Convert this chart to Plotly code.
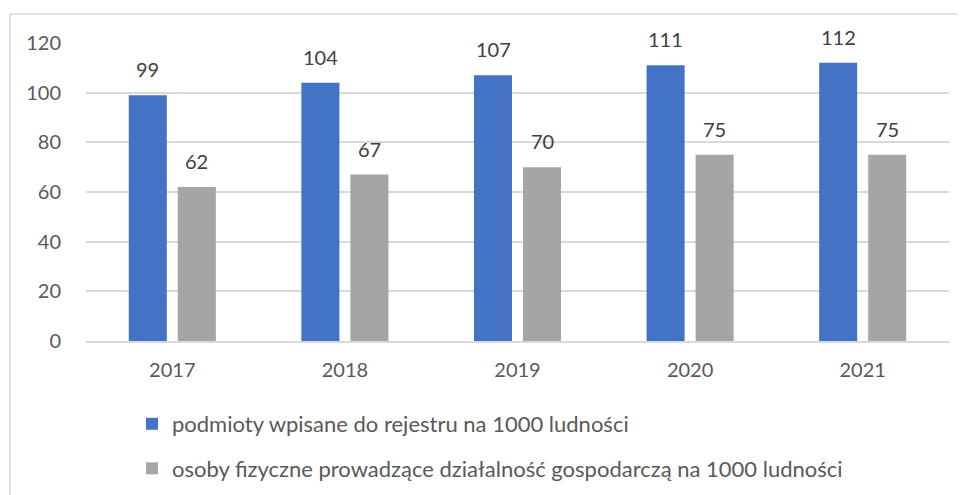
import plotly.graph_objects as go

years = ["2017", "2018", "2019", "2020", "2021"]
podmioty = [99, 104, 107, 111, 112]
osoby = [62, 67, 70, 75, 75]
name_a = "podmioty wpisane do rejestru na 1000 ludności"
name_b = "osoby fizyczne prowadzące działalność gospodarczą na 1000 ludności"
y_ticks = [0, 20, 40, 60, 80, 100, 120]

FONT = "Lato, Open Sans, sans-serif"
BLUE = "#4472C4"
GRAY = "#A5A5A5"

fig = go.Figure()
fig.add_trace(go.Bar(x=years, y=podmioty, name=name_a, marker=dict(color=BLUE, line=dict(width=0)),
                     legendgroup="a"))
fig.add_trace(go.Bar(x=years, y=osoby, name=name_b, marker=dict(color=GRAY, line=dict(width=0)),
                     legendgroup="b"))

# value labels (x given as category index)
for i, v in enumerate(podmioty):
    fig.add_annotation(x=i, y=v, text=str(v), showarrow=False, xshift=-24.5, yshift=12,
                       yanchor="bottom", font=dict(family=FONT, size=20, color="#404040"))
for i, v in enumerate(osoby):
    fig.add_annotation(x=i, y=v, text=str(v), showarrow=False, xshift=24.5, yshift=12,
                       yanchor="bottom", font=dict(family=FONT, size=20, color="#404040"))

# chart border
fig.add_shape(type="rect", xref="paper", yref="paper", x0=-0.088, x1=1.2, y0=-0.7, y1=1.097,
              line=dict(color="#D9D9D9", width=1.5), layer="below")

# page body has an 8px default margin, so the figure is sized to fit the window
fig.update_layout(
    width=958, height=487,
    margin=dict(l=78, r=17, t=35, b=154, autoexpand=False),
    paper_bgcolor="white", plot_bgcolor="white",
    barmode="group", bargap=0.432, bargroupgap=0.224,
    font=dict(family=FONT, size=20, color="#595959"),
    showlegend=True,
    legend=dict(orientation="v", x=0.0533, xanchor="left", y=-0.208, yanchor="top",
                traceorder="grouped", tracegroupgap=13,
                font=dict(family=FONT, size=22, color="#595959"),
                bgcolor="rgba(0,0,0,0)"),
    xaxis=dict(type="category", categoryorder="array", categoryarray=years,
               range=[-0.5, len(years) - 0.5], autorange=False, automargin=False,
               showgrid=False, showline=True, linecolor="#D9D9D9", linewidth=1.5,
               ticks="outside", ticklen=10, tickcolor="rgba(0,0,0,0)",
               tickfont=dict(family=FONT, size=20, color="#595959")),
    yaxis=dict(range=[0, 120], autorange=False, automargin=False, tickvals=y_ticks, showgrid=True,
               gridcolor="#D9D9D9", gridwidth=1.5,
               zeroline=False, showline=False, ticks="outside", ticklen=20,
               tickcolor="rgba(0,0,0,0)",
               tickfont=dict(family=FONT, size=20, color="#595959")),
)

fig.write_html("out.html")
